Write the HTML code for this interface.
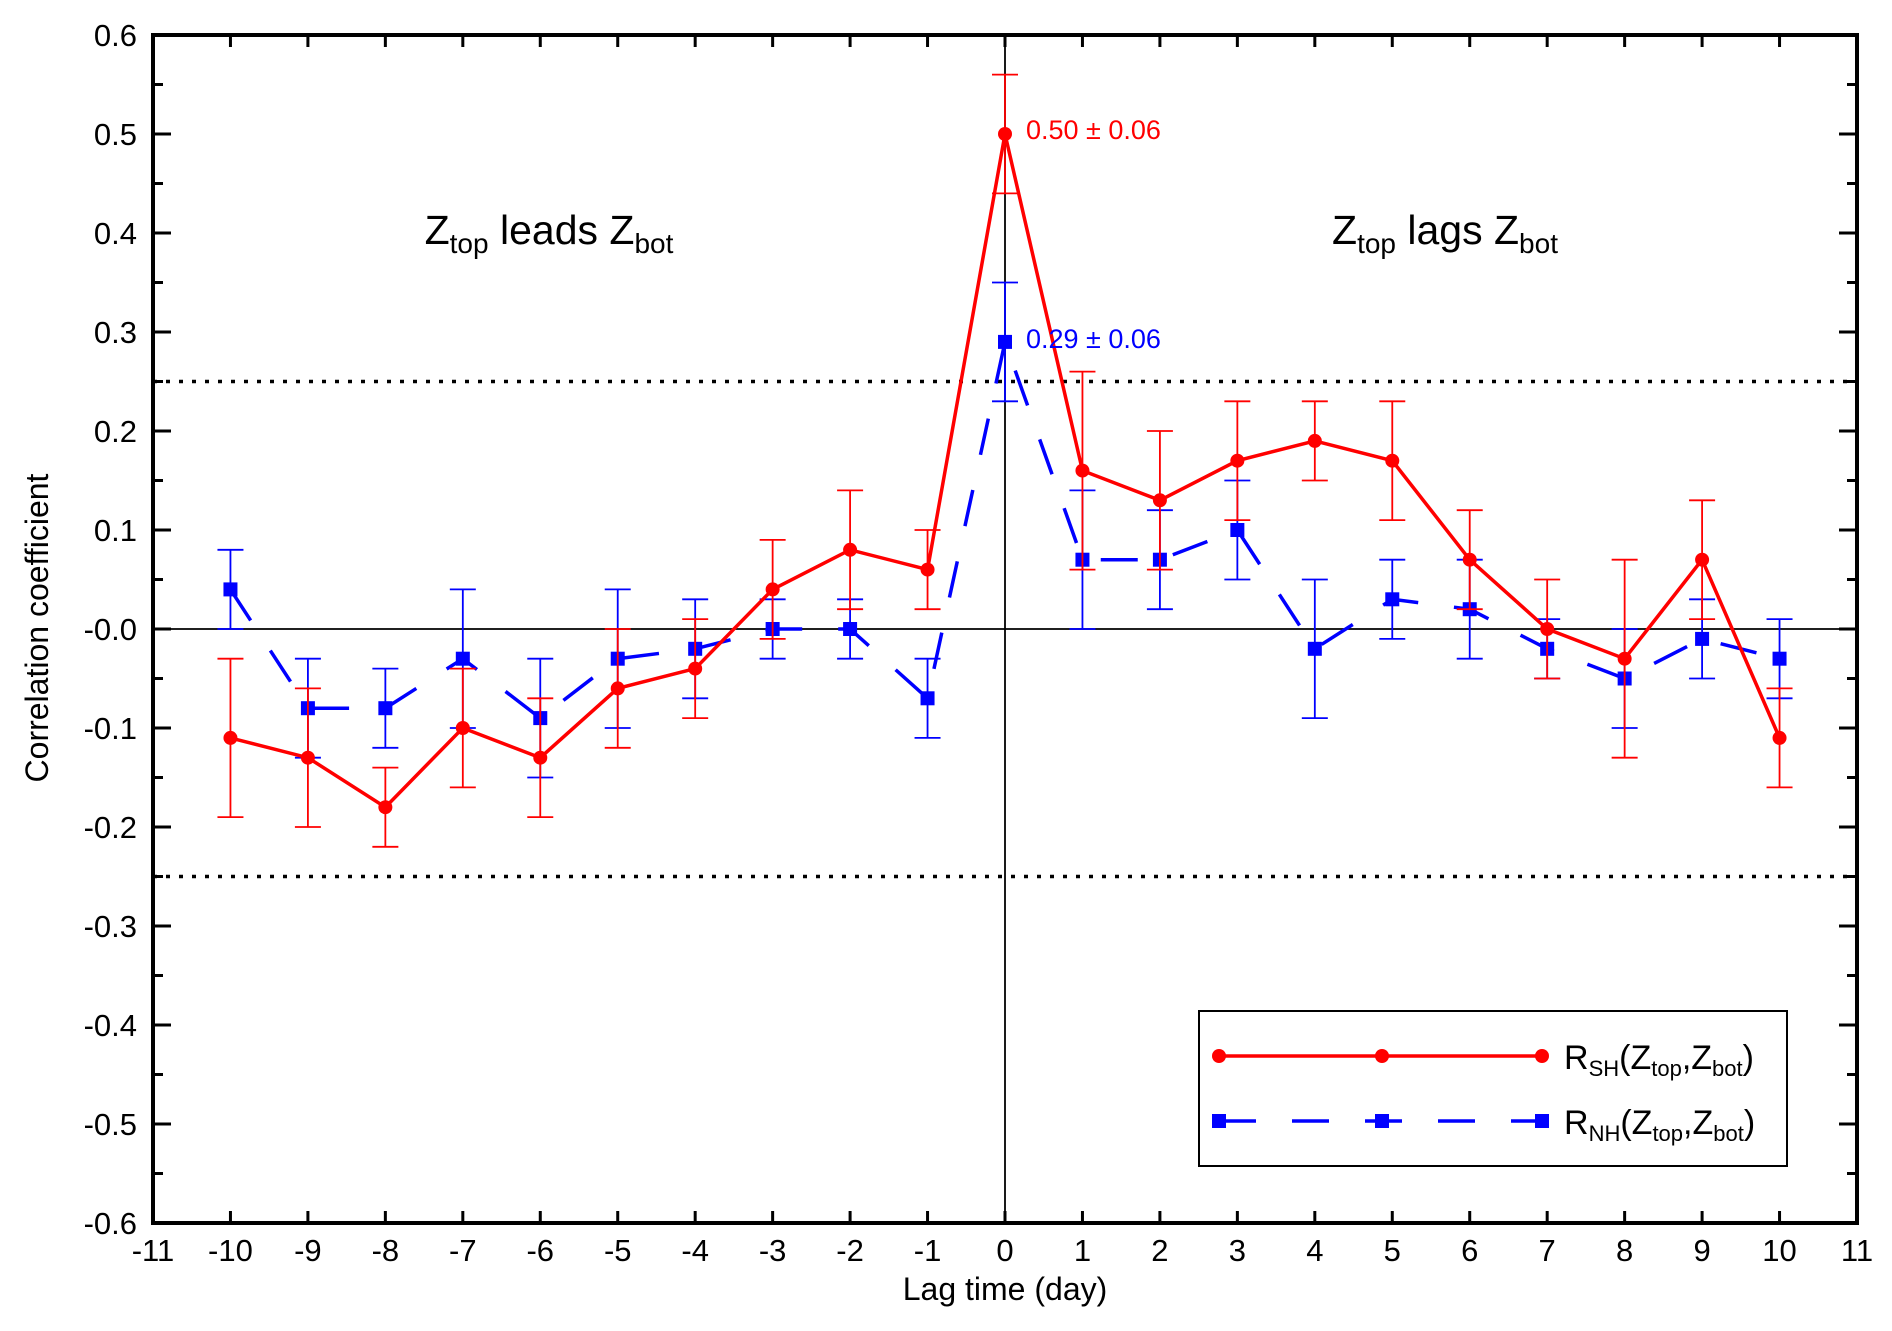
<!DOCTYPE html>
<html><head><meta charset="utf-8"><style>
html,body{margin:0;padding:0;background:#fff;}
svg{display:block;font-family:"Liberation Sans",sans-serif;}
</style></head><body>
<svg id="chart" width="1892" height="1331" viewBox="0 0 1892 1331" xmlns="http://www.w3.org/2000/svg">
<g id="grid"></g>
<g id="series"></g>
<g id="axes"></g>
<g id="texts">
<text x="0" y="0" transform="translate(48,628) rotate(-90)" text-anchor="middle" font-size="32">Correlation coefficient</text>
<text x="1005" y="1300" text-anchor="middle" font-size="32">Lag time (day)</text>
<text x="549" y="244" text-anchor="middle" font-size="41">Z<tspan font-size="28" dy="9">top</tspan><tspan dy="-9"> leads Z</tspan><tspan font-size="28" dy="9">bot</tspan></text>
<text x="1445" y="244" text-anchor="middle" font-size="41">Z<tspan font-size="28" dy="9">top</tspan><tspan dy="-9"> lags Z</tspan><tspan font-size="28" dy="9">bot</tspan></text>
<text x="1026" y="139" font-size="27" fill="#ff0000">0.50 ± 0.06</text>
<text x="1026" y="348" font-size="27" fill="#0000ff">0.29 ± 0.06</text>
</g>
<g id="legend">
<rect x="1199" y="1011" width="588" height="155" fill="#fff" stroke="#000" stroke-width="2"/>
<g>
<line x1="1219" y1="1056" x2="1542" y2="1056" stroke="#ff0000" stroke-width="3.5"/>
<circle cx="1219" cy="1056" r="7" fill="#ff0000"/><circle cx="1382" cy="1056" r="7" fill="#ff0000"/><circle cx="1542" cy="1056" r="7" fill="#ff0000"/>
<text x="1564" y="1069" font-size="34">R<tspan font-size="22" dy="7">SH</tspan><tspan dy="-7">(Z</tspan><tspan font-size="22" dy="7">top</tspan><tspan dy="-7">,Z</tspan><tspan font-size="22" dy="7">bot</tspan><tspan dy="-7">)</tspan></text>
</g>
<g>
<line x1="1219" y1="1121" x2="1542" y2="1121" stroke="#0000ff" stroke-width="3.5" stroke-dasharray="37,36"/>
<rect x="1212" y="1114" width="14" height="14" fill="#0000ff"/><rect x="1375" y="1114" width="14" height="14" fill="#0000ff"/><rect x="1535" y="1114" width="14" height="14" fill="#0000ff"/>
<text x="1564" y="1134" font-size="34">R<tspan font-size="22" dy="7">NH</tspan><tspan dy="-7">(Z</tspan><tspan font-size="22" dy="7">top</tspan><tspan dy="-7">,Z</tspan><tspan font-size="22" dy="7">bot</tspan><tspan dy="-7">)</tspan></text>
</g>
</g>
</svg>
<script>
const lags = [-10,-9,-8,-7,-6,-5,-4,-3,-2,-1,0,1,2,3,4,5,6,7,8,9,10];
const shValues = [-0.11,-0.13,-0.18,-0.10,-0.13,-0.06,-0.04,0.04,0.08,0.06,0.50,0.16,0.13,0.17,0.19,0.17,0.07,0.00,-0.03,0.07,-0.11];
const shErrors = [0.08,0.07,0.04,0.06,0.06,0.06,0.05,0.05,0.06,0.04,0.06,0.10,0.07,0.06,0.04,0.06,0.05,0.05,0.10,0.06,0.05];
const nhValues = [0.04,-0.08,-0.08,-0.03,-0.09,-0.03,-0.02,0.00,0.00,-0.07,0.29,0.07,0.07,0.10,-0.02,0.03,0.02,-0.02,-0.05,-0.01,-0.03];
const nhErrors = [0.04,0.05,0.04,0.07,0.06,0.07,0.05,0.03,0.03,0.04,0.06,0.07,0.05,0.05,0.07,0.04,0.05,0.03,0.05,0.04,0.04];
const xTickLabels = ['-11','-10','-9','-8','-7','-6','-5','-4','-3','-2','-1','0','1','2','3','4','5','6','7','8','9','10','11'];
const yTickLabels = ['-0.6','-0.5','-0.4','-0.3','-0.2','-0.1','-0.0','0.1','0.2','0.3','0.4','0.5','0.6'];
const significance = [0.25,-0.25];

const L=153,R=1857,T=35,B=1223;
const xMin=-11,xMax=11,yMin=-0.6,yMax=0.6;
const X=v=>L+(v-xMin)/(xMax-xMin)*(R-L);
const Y=v=>B-(v-yMin)/(yMax-yMin)*(B-T);
const NS='http://www.w3.org/2000/svg';
function mk(tag,attrs,parent){const e=document.createElementNS(NS,tag);for(const k in attrs)e.setAttribute(k,attrs[k]);parent.appendChild(e);return e;}
const grid=document.getElementById('grid'),ser=document.getElementById('series'),ax=document.getElementById('axes');

significance.forEach(s=>{
  const l=mk('line',{x1:L,x2:R,y1:Y(s),y2:Y(s),stroke:'#000','stroke-width':3.5,'stroke-dasharray':'4,9'},grid);
  
  
});
const z1=mk('line',{x1:L,x2:R,y1:Y(0),y2:Y(0),stroke:'#000','stroke-width':1.8},grid);


const z2=mk('line',{x1:X(0),x2:X(0),y1:T,y2:B,stroke:'#000','stroke-width':1.8},grid);



function drawSeries(vals,errs,color,name,dash,square){
  const g=mk('g',{},ser);
  
  
  lags.forEach((t,i)=>{
    const x=X(t),y1=Y(vals[i]-errs[i]),y2=Y(vals[i]+errs[i]);
    const eb=mk('path',{d:`M${x},${y1}V${y2}M${x-13},${y1}H${x+13}M${x-13},${y2}H${x+13}`,stroke:color,'stroke-width':1.8,fill:'none'},g);
    
    
  });
  const pts=lags.map((t,i)=>X(t)+','+Y(vals[i])).join(' ');
  const pl=mk('polyline',{points:pts,fill:'none',stroke:color,'stroke-width':3.5},g);
  if(dash)pl.setAttribute('stroke-dasharray',dash);
  
  
  lags.forEach((t,i)=>{
    let m;
    if(square)m=mk('rect',{x:X(t)-7,y:Y(vals[i])-7,width:14,height:14,fill:color},g);
    else m=mk('circle',{cx:X(t),cy:Y(vals[i]),r:7,fill:color},g);
    
    
  });
}
drawSeries(nhValues,nhErrors,'#0000ff','series-nh','37,36',true);
drawSeries(shValues,shErrors,'#ff0000','series-sh',null,false);

const fr=mk('rect',{x:L,y:T,width:R-L,height:B-T,fill:'none',stroke:'#000','stroke-width':4},ax);


xTickLabels.forEach((lab,i)=>{
  const v=xMin+i,x=X(v);
  mk('line',{x1:x,x2:x,y1:B,y2:B-12,stroke:'#000','stroke-width':3},ax);
  mk('line',{x1:x,x2:x,y1:T,y2:T+12,stroke:'#000','stroke-width':3},ax);
  const t=mk('text',{x:x,y:B+38,'text-anchor':'middle','font-size':31},ax);
  t.textContent=lab;
  
  
});
yTickLabels.forEach((lab,i)=>{
  const v=yMin+i*0.1,y=Y(v);
  mk('line',{x1:L,x2:L+18,y1:y,y2:y,stroke:'#000','stroke-width':3},ax);
  mk('line',{x1:R,x2:R-18,y1:y,y2:y,stroke:'#000','stroke-width':3},ax);
  if(i<yTickLabels.length-1){
    const ym=Y(v+0.05);
    mk('line',{x1:L,x2:L+10,y1:ym,y2:ym,stroke:'#000','stroke-width':3},ax);
    mk('line',{x1:R,x2:R-10,y1:ym,y2:ym,stroke:'#000','stroke-width':3},ax);
  }
  const t=mk('text',{x:L-16,y:y+11,'text-anchor':'end','font-size':31},ax);
  t.textContent=lab;
  
  
});
</script>
</body></html>
